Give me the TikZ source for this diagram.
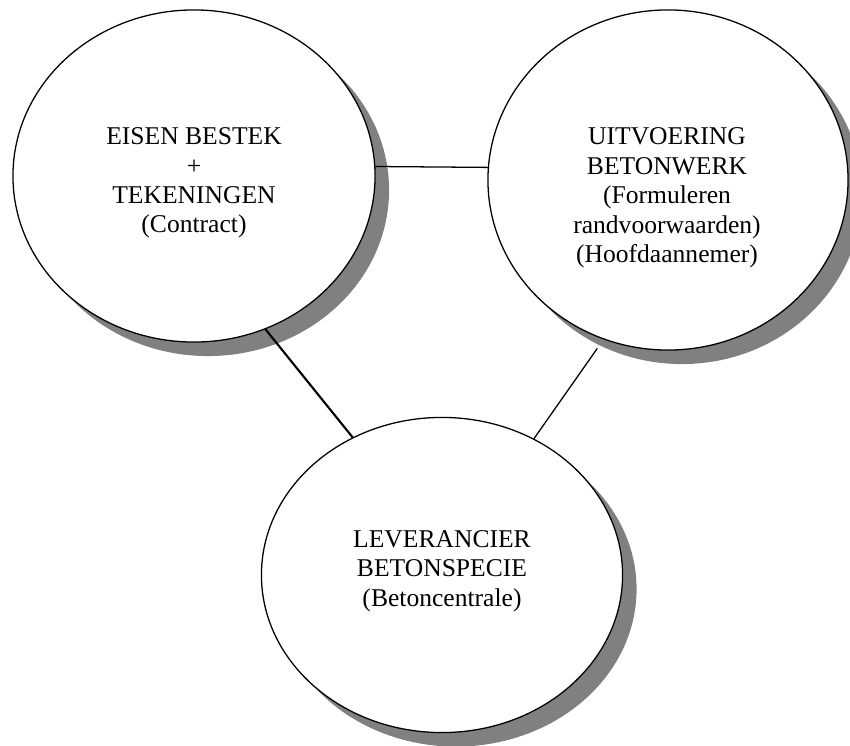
\documentclass[tikz,border=0pt]{standalone}
\usepackage{fontspec}
\setmainfont{Liberation Serif}
\usetikzlibrary{shapes.geometric,shadows}

\begin{document}
\begin{tikzpicture}[x=0.0165cm,y=-0.0165cm,
		bol/.style={ellipse,draw,line width=0.6pt,fill=white,inner sep=0pt,
			drop shadow={shadow xshift=0.231cm,shadow yshift=-0.231cm,fill=black!50,opacity=1}},
		tekst/.style={align=center,font=\fontsize{12}{13.8}\selectfont}]
		\useasboundingbox (0,0) rectangle (850,746);
		
		\node[bol,minimum width=5.973cm,minimum height=5.478cm] (eisen) at (194,176) {};
		\node[bol,minimum width=5.94cm,minimum height=5.61cm] (uitv) at (668,180) {};
		\node[bol,minimum width=5.957cm,minimum height=5.198cm] (lever) at (442,575) {};
		
		\draw[line width=0.6pt] (eisen.3.1) -- (uitv.176.5);
		\draw[line width=1pt] (eisen.-65.8) -- (lever.123.4);
		\draw[line width=0.6pt,shorten <=0.18cm] (uitv.248.4) -- (lever.56.3);
		
		\node[tekst] (eisen-t) at (194,183) {EISEN BESTEK\\+\\TEKENINGEN\\(Contract)};
		\node[tekst] (uitv-t) at (667,198) {UITVOERING\\BETONWERK\\(Formuleren\\randvoorwaarden)\\(Hoofdaannemer)};
		\node[tekst] (lever-t) at (442,571) {LEVERANCIER\\BETONSPECIE\\(Betoncentrale)};
	\end{tikzpicture}
\end{document}
